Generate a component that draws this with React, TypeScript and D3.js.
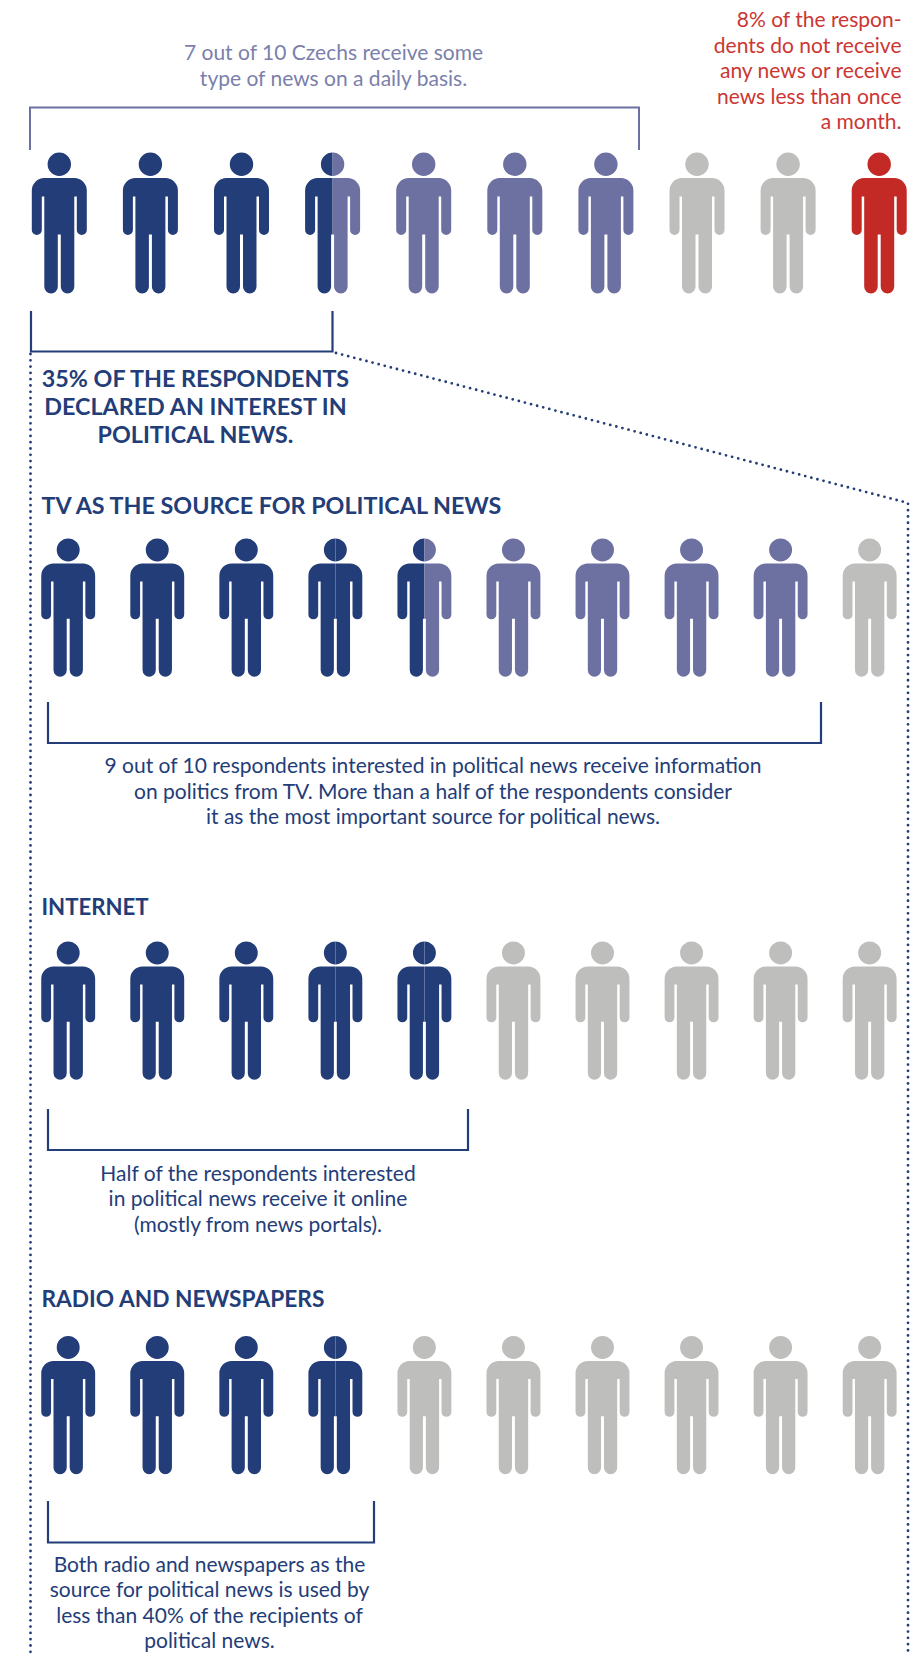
import React from "react";
import * as d3 from "d3";

const navy = "#233d78";
const mid = "#6d71a1";
const gray = "#bebebd";
const red = "#c32a26";

const overviewShares = [3.5, 3.5, 2, 1];
const tvShares = [4.5, 4.5, 1, 0];
const internetShares = [5, 0, 5, 0];
const radioShares = [4, 0, 6, 0];
const shareColors = [navy, mid, gray, red];

const topCaption = ["7 out of 10 Czechs receive some", "type of news on a daily basis."];
const redCaption = ["8% of the respon-", "dents do not receive", "any news or receive", "news less than once", "a month."];
const interestCaption = ["35% OF THE RESPONDENTS", "DECLARED AN INTEREST IN", "POLITICAL NEWS."];
const tvTitle = "TV AS THE SOURCE FOR POLITICAL NEWS";
const tvCaption = [
  "9 out of 10 respondents interested in political news receive information",
  "on politics from TV. More than a half of the respondents consider",
  "it as the most important source for political news.",
];
const internetTitle = "INTERNET";
const internetCaption = ["Half of the respondents interested", "in political news receive it online", "(mostly from news portals)."];
const radioTitle = "RADIO AND NEWSPAPERS";
const radioCaption = [
  "Both radio and newspapers as the",
  "source for political news is used by",
  "less than 40% of the recipients of",
  "political news.",
];

const FONT = "Lato, 'Open Sans', sans-serif";

function personBody(): string {
  const p = d3.path();
  const r = 12.5;
  p.moveTo(-15, 25.5);
  p.lineTo(15, 25.5);
  p.arcTo(27.5, 25.5, 27.5, 38, r);
  p.lineTo(27.5, 77.5);
  p.arc(22.5, 77.5, 5, 0, Math.PI);
  p.lineTo(17.5, 44);
  p.lineTo(15, 44);
  p.lineTo(15, 134.3);
  p.arc(8.25, 134.3, 6.75, 0, Math.PI);
  p.lineTo(1.5, 82);
  p.lineTo(-1.5, 82);
  p.lineTo(-1.5, 134.3);
  p.arc(-8.25, 134.3, 6.75, 0, Math.PI);
  p.lineTo(-15, 44);
  p.lineTo(-17.5, 44);
  p.lineTo(-17.5, 77.5);
  p.arc(-22.5, 77.5, 5, 0, Math.PI);
  p.lineTo(-27.5, 38);
  p.arcTo(-27.5, 25.5, -15, 25.5, r);
  p.closePath();
  p.moveTo(11.7, 11.7);
  p.arc(0, 11.7, 11.7, 0, 2 * Math.PI);
  p.closePath();
  return p.toString();
}
const PERSON = personBody();

/** Half-person colours from the cumulative shares, counted in half figures. */
function halfColors(shares: number[]): string[] {
  const out: string[] = [];
  shares.forEach((s, i) => {
    for (let k = 0; k < Math.round(s * 2); k++) out.push(shareColors[i]);
  });
  return out;
}

function PeopleRow({ shares, x0, step, top, scale, seams }: { shares: number[]; x0: number; step: number; top: number; scale: number; seams: number[] }) {
  const x = d3.scaleLinear().domain([0, 9]).range([x0, x0 + 9 * step]);
  const halves = halfColors(shares);
  return (
    <g>
      {d3.range(10).map((i) => {
        const a = halves[2 * i];
        const b = halves[2 * i + 1];
        const t = `translate(${x(i)},${top}) scale(${scale})`;
        if (a === b && !seams.includes(i)) return <path key={i} d={PERSON} fill={a} transform={t} />;
        const seam = seams.includes(i);
        return (
          <g key={i} transform={t}>
            <path d={PERSON} fill={a} clipPath={seam ? "url(#leftSeam)" : "url(#left)"} />
            <path d={PERSON} fill={b} clipPath={seam ? "url(#rightSeam)" : "url(#right)"} />
          </g>
        );
      })}
    </g>
  );
}

function Lines({ lines, x, y, step, size, fill, anchor = "middle", weight = 400 }: { lines: string[]; x: number; y: number; step: number; size: number; fill: string; anchor?: string; weight?: number }) {
  const s = d3.scaleLinear().domain([0, 1]).range([y, y + step]);
  return (
    <g fontFamily={FONT} fontSize={size} fill={fill} textAnchor={anchor} fontWeight={weight}>
      {lines.map((l, i) => (
        <text key={i} x={x} y={s(i)}>
          {l}
        </text>
      ))}
    </g>
  );
}

function bracket(x1: number, x2: number, yEnd: number, yBar: number) {
  const p = d3.path();
  p.moveTo(x1, yEnd);
  p.lineTo(x1, yBar);
  p.lineTo(x2, yBar);
  p.lineTo(x2, yEnd);
  return p.toString();
}

export default function App() {
  const dotted = d3.line()([[30.5, 354], [30.5, 1655]]) as string;
  const dotted2 = d3.line()([[336, 353], [908, 503], [908, 1655]]) as string;
  return (
    <svg width={923} height={1655} viewBox="0 0 923 1655" style={{ position: "absolute", left: 0, top: 0, background: "#fff" }}>
      <defs>
        <clipPath id="left"><rect x={-40} y={-5} width={40} height={160} /></clipPath>
        <clipPath id="right"><rect x={0} y={-5} width={40} height={160} /></clipPath>
        <clipPath id="leftSeam"><rect x={-40} y={-5} width={39.96} height={160} /></clipPath>
        <clipPath id="rightSeam"><rect x={0.04} y={-5} width={40} height={160} /></clipPath>
      </defs>

      <Lines lines={topCaption} x={333.5} y={60} step={25.5} size={21} fill="#7b7fab" />
      <Lines lines={redCaption} x={901.5} y={27} step={25.6} size={21} fill="#cc3632" anchor="end" />

      <path d={bracket(30, 639, 150, 107.5)} fill="none" stroke={mid} strokeWidth={2} />
      <PeopleRow shares={overviewShares} x0={59.3} step={91.1} top={152.5} scale={1} seams={[]} />
      <path d={bracket(31, 332.5, 311, 351.5)} fill="none" stroke={navy} strokeWidth={2.2} />
      <path d={dotted} fill="none" stroke={navy} strokeWidth={2.8} strokeDasharray="0 6.3" strokeLinecap="round" />
      <path d={dotted2} fill="none" stroke={navy} strokeWidth={2.8} strokeDasharray="0 6.3" strokeLinecap="round" />
      <Lines lines={interestCaption} x={195.5} y={386.5} step={28.2} size={23.3} fill={navy} weight={700} />

      <Lines lines={[tvTitle]} x={41.5} y={514} step={0} size={23.3} fill={navy} anchor="start" weight={700} />
      <PeopleRow shares={tvShares} x0={68.2} step={89.05} top={538.5} scale={0.98} seams={[3]} />
      <path d={bracket(48, 821, 702, 743)} fill="none" stroke={navy} strokeWidth={2.2} />
      <Lines lines={tvCaption} x={433} y={773} step={25.5} size={21} fill={navy} />

      <Lines lines={[internetTitle]} x={41.5} y={915} step={0} size={22.2} fill={navy} anchor="start" weight={700} />
      <PeopleRow shares={internetShares} x0={68.2} step={89.05} top={941.5} scale={0.98} seams={[3, 4]} />
      <path d={bracket(48, 468, 1109, 1150)} fill="none" stroke={navy} strokeWidth={2.2} />
      <Lines lines={internetCaption} x={258} y={1180.7} step={25.5} size={21} fill={navy} />

      <Lines lines={[radioTitle]} x={41.5} y={1307} step={0} size={22.7} fill={navy} anchor="start" weight={700} />
      <PeopleRow shares={radioShares} x0={68.2} step={89.05} top={1336} scale={0.98} seams={[3]} />
      <path d={bracket(48, 374, 1501, 1542.5)} fill="none" stroke={navy} strokeWidth={2.2} />
      <Lines lines={radioCaption} x={209.5} y={1571.7} step={25.5} size={21} fill={navy} />
    </svg>
  );
}
